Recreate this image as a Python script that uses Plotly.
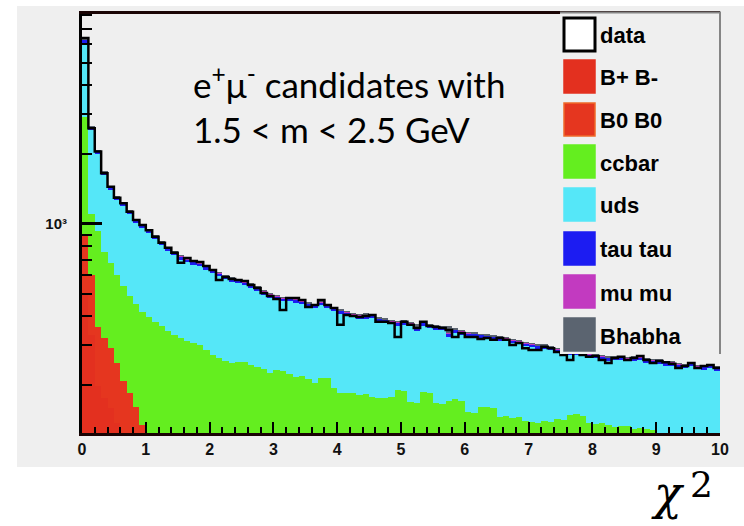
import numpy as np
import plotly.graph_objects as go

# ---- binning: 100 bins of width 0.1 on chi2 in [0, 10] ----
N_BINS = 100
BIN_WIDTH = 0.1
bin_lo = np.round(np.arange(N_BINS) * BIN_WIDTH, 2)
bin_mid = bin_lo + BIN_WIDTH / 2

# ---- observed events ----
data_counts = [
    6390, 2600, 2060, 1660, 1450, 1300, 1230, 1130, 1040, 990,
    940, 880, 830, 790, 750, 680, 713, 692, 685, 658,
    632, 572, 590, 578, 572, 566, 545, 528, 503, 488,
    473, 424, 478, 478, 469, 437, 446, 469, 446, 433,
    366, 404, 400, 396, 400, 404, 377, 377, 373, 324,
    377, 366, 355, 377, 362, 358, 355, 348, 324, 337,
    324, 324, 318, 321, 315, 321, 315, 299, 305, 290,
    285, 285, 294, 290, 279, 271, 258, 279, 271, 266,
    268, 258, 250, 263, 266, 258, 263, 268, 258, 250,
    255, 252, 248, 238, 243, 250, 238, 243, 245, 238,
]

# ---- simulated components (stacked in this order) ----
bpbm = [
    492, 330, 198, 176, 160, 138, 116, 102, 89, 74,
    8, 8, 9, 8, 7, 8, 8, 7, 8, 8,
    8, 7, 8, 8, 7, 8, 7, 8, 8, 7,
    8, 7, 8, 7, 8, 8, 7, 8, 7, 8,
    6, 6, 5, 6, 6, 6, 5, 6, 6, 6,
    5, 6, 6, 6, 5, 6, 6, 5, 6, 6,
    6, 5, 6, 6, 6, 5, 6, 6, 5, 6,
    4, 4, 4, 3, 4, 4, 4, 4, 3, 4,
    4, 4, 3, 4, 4, 4, 4, 3, 4, 4,
    4, 3, 4, 4, 4, 3, 4, 4, 4, 3,
]
b0b0 = [
    404, 270, 161, 144, 130, 112, 94, 83, 73, 61,
    6, 6, 5, 6, 7, 6, 6, 7, 6, 6,
    6, 7, 6, 6, 7, 6, 7, 6, 6, 7,
    6, 7, 6, 7, 6, 6, 7, 6, 7, 6,
    4, 4, 5, 4, 4, 4, 5, 4, 4, 4,
    5, 4, 4, 4, 5, 4, 4, 5, 4, 4,
    4, 5, 4, 4, 4, 5, 4, 4, 5, 4,
    2, 2, 2, 3, 2, 2, 2, 2, 3, 2,
    2, 2, 3, 2, 2, 2, 2, 3, 2, 2,
    2, 3, 2, 2, 2, 3, 2, 2, 2, 3,
]
ccbar = [
    2009, 500, 571, 440, 390, 350, 330, 305, 288, 280,
    381, 361, 346, 331, 318, 308, 298, 291, 284, 271,
    258, 249, 241, 236, 238, 239, 231, 226, 222, 212,
    219, 218, 211, 204, 206, 200, 191, 201, 202, 181,
    176, 175, 176, 172, 173, 168, 167, 166, 168, 182,
    180, 160, 158, 178, 176, 158, 157, 162, 165, 162,
    143, 142, 152, 151, 150, 136, 137, 135, 136, 130,
    133, 132, 134, 133, 137, 136, 143, 144, 142, 132,
    130, 131, 129, 126, 127, 128, 124, 125, 123, 122,
    104, 102, 105, 103, 101, 104, 102, 100, 103, 101,
]
uds = [
    3170, 1455, 1076, 870, 728, 664, 656, 610, 562, 544,
    517, 483, 450, 421, 400, 379, 372, 361, 357, 350,
    342, 332, 322, 313, 301, 290, 284, 274, 259, 254,
    237, 232, 237, 239, 230, 223, 228, 230, 217, 224,
    223, 217, 208, 207, 206, 212, 199, 197, 191, 171,
    177, 190, 176, 175, 167, 181, 179, 153, 163, 160,
    173, 173, 159, 157, 155, 167, 163, 159, 156, 156,
    153, 150, 148, 145, 135, 132, 121, 122, 121, 127,
    127, 122, 120, 125, 124, 120, 125, 126, 122, 120,
    137, 135, 132, 130, 130, 132, 127, 128, 128, 124,
]
tautau = [
    190, 80, 62, 50, 44, 39, 37, 34, 32, 30,
    28, 27, 25, 24, 23, 22, 21, 21, 20, 20,
    19, 18, 18, 18, 17, 17, 16, 16, 15, 15,
    15, 14, 14, 14, 14, 14, 13, 13, 13, 13,
    12, 12, 12, 12, 12, 12, 12, 11, 11, 11,
    11, 11, 11, 11, 11, 10, 10, 10, 10, 10,
    10, 10, 10, 10, 10, 10, 9, 9, 9, 9,
    9, 9, 9, 9, 9, 9, 9, 9, 8, 8,
    8, 8, 8, 8, 8, 8, 8, 8, 8, 8,
    8, 8, 8, 7, 7, 7, 7, 7, 7, 7,
]
mumu = [
    30, 13, 10, 8, 7, 6, 6, 5, 5, 5,
    4, 4, 4, 4, 4, 4, 4, 4, 4, 4,
    4, 4, 4, 4, 4, 4, 4, 4, 4, 4,
    4, 3, 3, 3, 3, 3, 3, 3, 3, 3,
    3, 3, 3, 3, 3, 3, 3, 3, 3, 3,
    3, 3, 3, 3, 3, 3, 3, 3, 3, 3,
    3, 2, 2, 2, 2, 2, 2, 2, 2, 2,
    2, 2, 2, 2, 2, 2, 2, 2, 2, 2,
    2, 2, 2, 2, 2, 2, 2, 2, 2, 2,
    2, 2, 2, 2, 2, 2, 2, 2, 2, 2,
]
bhabha = [
    5, 2, 2, 2, 1, 1, 1, 1, 1, 1,
    1, 1, 1, 1, 1, 1, 1, 1, 1, 1,
    1, 1, 1, 1, 1, 1, 1, 1, 1, 1,
    1, 1, 1, 1, 1, 1, 1, 1, 1, 1,
    1, 1, 1, 1, 4, 1, 1, 1, 1, 1,
    1, 1, 12, 1, 1, 1, 1, 22, 1, 1,
    1, 1, 1, 1, 1, 1, 1, 1, 1, 1,
    1, 1, 1, 1, 1, 1, 1, 1, 1, 1,
    1, 1, 1, 1, 1, 1, 1, 1, 1, 1,
    1, 1, 1, 1, 1, 1, 1, 1, 1, 1,
]

components = [
    ("B+ B-", bpbm, "#e3301f", "#e3301f"),
    ("B0 B0", b0b0, "#e5361f", "#f06a2a"),
    ("ccbar", ccbar, "#64ee1f", "#64ee1f"),
    ("uds", uds, "#55e7f8", "#55e7f8"),
    ("tau tau", tautau, "#1c1cf2", "#1c1cf2"),
    ("mu mu", mumu, "#c23ac0", "#c23ac0"),
    ("Bhabha", bhabha, "#5b6470", "#5b6470"),
]

# ---- plot geometry (pixels) ----
W, H = 744, 526
L, R, T, B = 82, 24, 14, 93
PW, PH = W - L - R, H - T - B
Y_MIN, Y_MAX = 124.5, 8110.0


def px(x):
    return (x - L) / PW


def py(y):
    return (H - B - y) / PH


fig = go.Figure()

for name, vals, fill, _ in components:
    fig.add_trace(go.Bar(
        x=bin_mid, y=vals, width=BIN_WIDTH, name=name,
        marker=dict(color=fill, line=dict(width=0)),
        showlegend=False,
    ))

# data as a histogram outline
step_x = list(bin_lo) + [N_BINS * BIN_WIDTH]
step_y = list(data_counts) + [data_counts[-1]]
fig.add_trace(go.Scatter(
    x=step_x, y=step_y, mode="lines", line=dict(color="black", width=2.5, shape="hv"),
    name="data", showlegend=False,
))

shapes = []
annotations = []

# grey canvas behind everything
shapes.append(dict(type="rect", xref="paper", yref="paper",
                   x0=px(17), x1=px(744), y0=py(467), y1=py(6),
                   fillcolor="#efefef", line=dict(width=0), layer="below"))

# legend box
shapes.append(dict(type="rect", xref="paper", yref="paper",
                   x0=px(560), x1=px(721), y0=py(354), y1=py(12),
                   fillcolor="#efefef", line=dict(width=0), layer="above"))
shapes.append(dict(type="line", xref="paper", yref="paper",
                   x0=px(560), x1=px(721), y0=py(12.5), y1=py(12.5),
                   line=dict(color="#858585", width=2), layer="above"))
shapes.append(dict(type="line", xref="paper", yref="paper",
                   x0=px(720), x1=px(720), y0=py(354), y1=py(12),
                   line=dict(color="#858585", width=2), layer="above"))

legend_rows = [("data", "white", "black")] + [(n, f, e) for n, _, f, e in components]
row_top = [18, 60, 103, 145, 188, 232, 275, 318]
for (label, fill, edge), top in zip(legend_rows, row_top):
    lw = 3 if label == "data" else 1.5
    shapes.append(dict(type="rect", xref="paper", yref="paper",
                       x0=px(564), x1=px(595), y0=py(top + 33), y1=py(top),
                       fillcolor=fill, line=dict(color=edge, width=lw), layer="above"))
    annotations.append(dict(xref="paper", yref="paper", x=px(598), y=py(top + 18),
                            xanchor="left", yanchor="middle", showarrow=False, text=label,
                            font=dict(family="Liberation Sans", size=22, color="black", weight="bold")))

# selection text
annotations.append(dict(
    xref="paper", yref="paper", x=px(191), y=py(104), xanchor="left", yanchor="middle",
    align="left", showarrow=False,
    text="e<sup>+</sup>μ<sup>-</sup> candidates with<br>1.5 &lt; m &lt; 2.5 GeV",
    font=dict(family="Lato", size=35, color="black"),
))

# axis title: chi-squared
annotations.append(dict(
    xref="paper", yref="paper", x=px(668), y=py(493), xanchor="center", yanchor="middle",
    showarrow=False, text="<i>χ</i>",
    font=dict(family="DejaVu Serif", size=46, color="black"),
))
annotations.append(dict(
    xref="paper", yref="paper", x=px(701), y=py(484), xanchor="center", yanchor="middle",
    showarrow=False, text="2",
    font=dict(family="DejaVu Serif", size=36, color="black"),
))

fig.update_layout(
    width=W, height=H, autosize=False,
    margin=dict(l=L, r=R, t=T, b=B, pad=0),
    paper_bgcolor="white", plot_bgcolor="#efefef",
    barmode="stack", bargap=0, bargroupgap=0,
    showlegend=False,
    shapes=shapes, annotations=annotations,
    xaxis=dict(
        range=[0, 10], tickmode="linear", tick0=0, dtick=1,
        ticks="inside", ticklen=11, tickwidth=2, tickcolor="black",
        minor=dict(dtick=0.2, ticks="inside", ticklen=6, tickwidth=1.5, tickcolor="black"),
        showline=True, linecolor="#1a0404", linewidth=3, mirror=True,
        showgrid=False, zeroline=False, ticklabelstandoff=0,
        tickfont=dict(family="Liberation Sans", size=16, color="#111", weight="bold"),
    ),
    yaxis=dict(
        type="log", range=[np.log10(Y_MIN), np.log10(Y_MAX)],
        tickmode="array", tickvals=[1000], ticktext=["10³"],
        ticks="inside", ticklen=20, tickwidth=2.5, tickcolor="black",
        minor=dict(tickmode="array",
                   tickvals=[200, 300, 400, 500, 600, 700, 800, 900,
                             2000, 3000, 4000, 5000, 6000, 7000, 8000],
                   ticks="inside", ticklen=10, tickwidth=2, tickcolor="black"),
        showline=True, linecolor="black", linewidth=3, mirror=False,
        showgrid=False, zeroline=False, ticklabelstandoff=9,
        tickfont=dict(family="Liberation Sans", size=15, color="#111", weight="bold"),
    ),
)

fig.write_html("out.html")
